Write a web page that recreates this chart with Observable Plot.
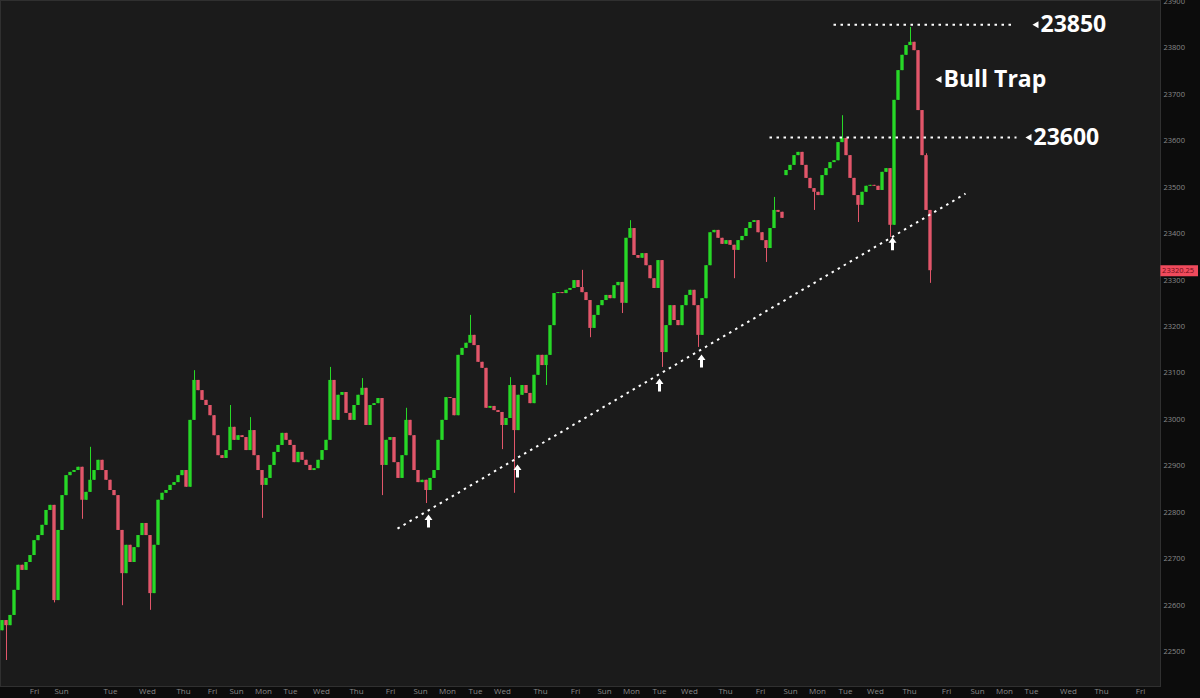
<!DOCTYPE html>
<html><head><meta charset="utf-8">
<script src="https://cdn.jsdelivr.net/npm/d3@7"></script>
<script src="https://cdn.jsdelivr.net/npm/@observablehq/plot@0.6"></script>
<style>html,body{margin:0;padding:0;background:#0c0c0c;overflow:hidden}</style>
</head><body><div id="chart"></div>
<script>
// ---- data (bar index, price) ----
const firstOpen = 22545;
const closes = [
  22567,22556,22578,22632,22686,22675,22692,22707,22739,22750,
  22772,22804,22815,22610,22761,22836,22879,22886,22890,22897,
  22826,22843,22869,22890,22912,22890,22869,22847,22836,22761,
  22668,22729,22692,22724,22750,22776,22750,22625,22729,22826,
  22841,22847,22858,22864,22879,22890,22854,22998,23084,23062,
  23041,23030,23008,22965,22922,22916,22933,22983,22955,22965,
  22961,22933,22976,22922,22890,22858,22873,22901,22929,22944,
  22970,22955,22944,22907,22929,22912,22901,22890,22894,22912,
  22933,22955,23084,22998,23052,23058,23013,22998,23030,23052,
  23067,22987,23030,23034,23045,22901,22955,22961,22907,22873,
  22922,22998,22965,22890,22864,22869,22847,22873,22890,22955,
  22998,23047,23045,23008,23138,23153,23164,23181,23159,23123,
  23110,23024,23028,23019,23015,22987,23002,23073,22976,23052,
  23073,23056,23034,23095,23138,23116,23138,23202,23271,23273,
  23271,23278,23282,23299,23284,23273,23256,23196,23224,23245,
  23256,23267,23260,23288,23295,23250,23390,23411,23353,23347,
  23357,23331,23303,23282,23342,23144,23202,23245,23213,23202,
  23245,23267,23278,23245,23181,23260,23331,23402,23407,23390,
  23377,23385,23375,23364,23385,23394,23411,23424,23428,23402,
  23385,23368,23411,23450,23446,23433,23536,23547,23568,23575,
  23547,23519,23497,23489,23482,23525,23540,23553,23557,23596,
  23605,23568,23519,23482,23461,23489,23502,23504,23502,23493,
  23532,23540,23418,23687,23751,23784,23805,23812,23794,23665,
  23568,23450,23320.25
];
const sessionOpens = [[196, 23525]];
const highWicks = [[22,22940],[48,23105],[57,23030],[62,23004],[82,23112],[90,23088],[101,23024],[117,23224],[127,23090],[145,23321],[157,23428],[193,23478],[210,23654],[227,23844],[231,23572]];
const lowWicks = [[1,22481],[13,22605],[20,22785],[30,22599],[37,22589],[65,22787],[95,22836],[106,22819],[125,22935],[128,22841],[136,23073],[147,23176],[155,23228],[165,23112],[174,23155],[183,23303],[191,23338],[203,23450],[214,23424],[222,23392],[232,23293]];

const priceTicks = [22500,22600,22700,22800,22900,23000,23100,23200,23300,23400,23500,23600,23700,23800,23900];
const dayTickPos = [8,14.75,27,36.25,45.25,52.5,58.5,65.25,72,79.75,88.5,97,104.5,111.25,118.25,125,134.5,143.25,150.5,157.25,164.25,171.75,180.75,189.5,197,203.75,210.75,218.25,226.75,236,243.75,250.5,257.25,266.5,274.75,284.5];
const dayTickLabels = ["Fri","Sun","Tue","Wed","Thu","Fri","Sun","Mon","Tue","Wed","Thu","Fri","Sun","Mon","Tue","Wed","Thu","Fri","Sun","Mon","Tue","Wed","Thu","Fri","Sun","Mon","Tue","Wed","Thu","Fri","Sun","Mon","Tue","Wed","Thu","Fri"];
const lastPrice = 23320.25;

const levelValues = [23850, 23607];
const levelStart = [207.75, 191.75];
const levelEnd = [252.75, 253.5];
const levelLabels = ["23850", "23600"];
const levelLabelX = [259.5, 257.75];
const noteText = ["Bull Trap"];
const noteX = [235.25];
const noteY = [23732];
const trendStart = [98.75, 22765];
const trendEnd = [240.75, 23486];
const arrowX = [106.5, 128.75, 164.25, 174.75, 222.5];
const arrowY = [22780, 22888, 23073, 23125, 23377];

// ---- build tables ----
const GREEN = "#27d827", RED = "#e2566a";
const openOverride = new Map(sessionOpens);
const hiMap = new Map(highWicks), loMap = new Map(lowWicks);
const candles = closes.map((c, i) => {
  const o = openOverride.has(i) ? openOverride.get(i) : (i === 0 ? firstOpen : closes[i - 1]);
  const hi = Math.max(o, c, hiMap.get(i) ?? -Infinity);
  const lo = Math.min(o, c, loMap.get(i) ?? Infinity);
  return {i, o, c, hi, lo, col: c >= o ? GREEN : RED};
});
const days = dayTickPos.map((k, j) => ({k, label: dayTickLabels[j]}));
const levels = levelValues.map((v, j) => ({v, x1: levelStart[j], x2: levelEnd[j], label: levelLabels[j], lx: levelLabelX[j]}));
const notes = noteText.map((t, j) => ({t, x: noteX[j], y: noteY[j]}));
const arrows = arrowX.map((x, j) => ({x, y: arrowY[j]}));
const markers = [...levels.map(d => ({x: d.lx, y: d.v})), ...notes.map(d => ({x: d.x, y: d.y}))];

const arrowSymbol = {
  draw(ctx) {
    ctx.moveTo(0, -7);
    ctx.lineTo(4, -1.5);
    ctx.lineTo(1.5, -1.5);
    ctx.lineTo(1.5, 6);
    ctx.lineTo(-1.5, 6);
    ctx.lineTo(-1.5, -1.5);
    ctx.lineTo(-4, -1.5);
    ctx.closePath();
  }
};

const chart = Plot.plot({
  width: 1200, height: 698,
  marginTop: 0, marginLeft: 0, marginRight: 40, marginBottom: 12,
  style: {background: "#0c0c0c", fontFamily: "'Open Sans', sans-serif", overflow: "hidden"},
  x: {domain: [-0.5, 289.5], axis: null},
  y: {domain: [22425, 23902], axis: null},
  color: {type: "identity"},
  marks: [
    Plot.frame({fill: "#1b1b1b", stroke: "#303030"}),
    Plot.ruleX(candles, {x: "i", y1: "lo", y2: "hi", stroke: "col", strokeWidth: 1}),
    Plot.rect(candles, {x1: d => d.i - 0.42, x2: d => d.i + 0.42, y1: "o", y2: "c", fill: "col"}),
    Plot.link(levels, {x1: "x1", x2: "x2", y1: "v", y2: "v", stroke: "#ffffff", strokeWidth: 2, strokeDasharray: "2.5,4.5"}),
    Plot.link([{a: trendStart, b: trendEnd}], {x1: d => d.a[0], y1: d => d.a[1], x2: d => d.b[0], y2: d => d.b[1], stroke: "#ffffff", strokeWidth: 2, strokeDasharray: "2.5,4.5"}),
    Plot.dot(arrows, {x: "x", y: "y", symbol: arrowSymbol, r: 5, fill: "#ffffff", stroke: "none"}),
    Plot.dot(markers, {x: "x", y: "y", symbol: "triangle", r: 2.6, rotate: -90, dx: -4, fill: "#ffffff", stroke: "none"}),
    Plot.text(levels, {x: "lx", y: "v", text: "label", textAnchor: "start", fontSize: 23, fontWeight: "bold", fill: "#ffffff"}),
    Plot.text(notes, {x: "x", y: "y", text: "t", textAnchor: "start", fontSize: 23, fontWeight: "bold", fill: "#ffffff"}),
    Plot.axisY(priceTicks, {anchor: "right", tickSize: 0, tickPadding: 3, fontSize: 7.5, fill: "#8a8a8a", textAnchor: "start", label: null, tickFormat: d => String(d)}),
    Plot.text(days, {x: "k", text: "label", frameAnchor: "bottom", dy: 7, fontSize: 8, fill: "#8a8a8a"}),
    Plot.ruleY([lastPrice], {x1: () => 289.6, x2: () => 299, stroke: "#f04a5c", strokeWidth: 11}),
    Plot.text([lastPrice], {x: () => 289.9, y: d => d, text: d => d.toFixed(2), textAnchor: "start", fontSize: 7.5, fill: "#6a0d18"})
  ]
});
document.getElementById("chart").appendChild(chart);
</script>
</body></html>
